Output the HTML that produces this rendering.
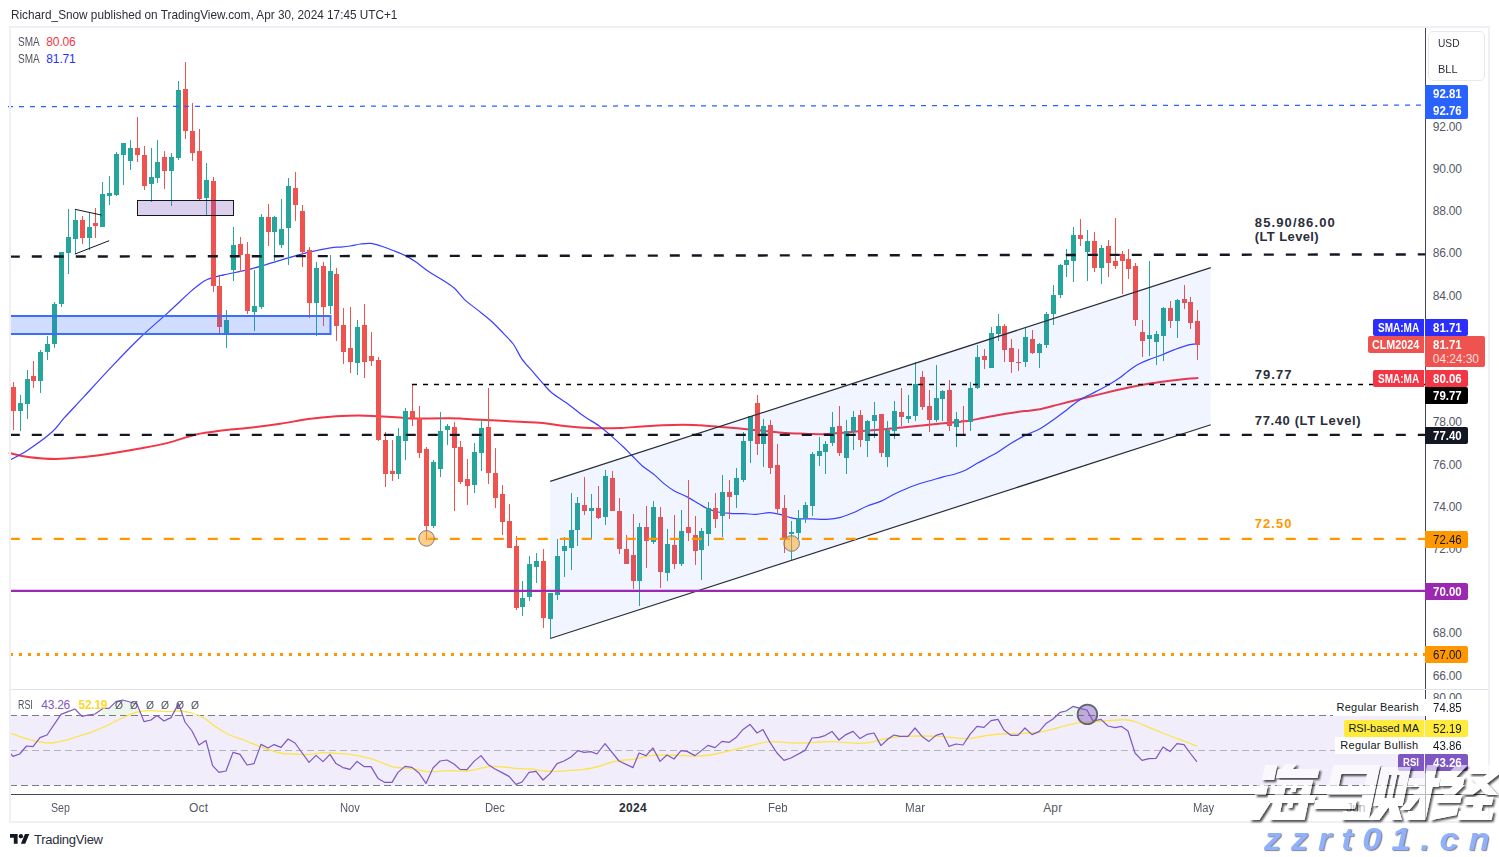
<!DOCTYPE html>
<html><head><meta charset="utf-8"><title>chart</title>
<style>
html,body{margin:0;padding:0;background:#fff;overflow:hidden}
body{width:1499px;height:857px;position:relative;overflow:hidden;font-family:"Liberation Sans",sans-serif}
.t{position:absolute;white-space:pre;font-family:"Liberation Sans",sans-serif}
.b{position:absolute}
#frame{position:absolute;left:9px;top:26px;width:1481px;height:797px;box-sizing:border-box;border:2px solid #eef0f5}
svg{position:absolute;left:0;top:0}
</style></head><body>
<svg width="1499" height="857" viewBox="0 0 1499 857">
<rect x="10" y="715.4" width="1415" height="70" fill="#f1edfa"/>
<polygon points="101,715 103,708.4 109,708.4 116,701.6 122.4,700 130,702 137,704 141.5,715" fill="#ecf6ed"/>
<polygon points="1056,715 1060,712.4 1066,711 1073,706.4 1080,708.4 1087,710 1090,715" fill="#ecf6ed"/>
<path d="M9.5,453.0 C12.6,453.6 20.2,455.9 28.0,456.9 C35.8,457.9 46.7,458.9 56.0,458.9 C65.3,458.9 74.7,457.8 84.0,456.9 C93.3,455.9 102.7,454.6 112.0,453.2 C121.3,451.8 130.7,450.2 140.0,448.5 C149.3,446.8 158.7,445.2 168.0,442.9 C177.3,440.6 186.7,436.6 196.0,434.5 C205.3,432.4 214.8,431.5 224.1,430.3 C233.4,429.1 242.8,428.6 252.1,427.5 C261.4,426.4 270.8,425.2 280.1,423.8 C289.4,422.4 298.8,420.4 308.1,419.1 C317.4,417.9 327.7,416.9 336.1,416.3 C344.5,415.7 351.5,415.4 358.5,415.4 C365.5,415.4 371.3,415.9 378.2,416.3 C385.1,416.7 393.9,417.1 400.0,417.5 C406.1,417.9 406.7,418.5 415.0,418.6 C423.3,418.7 438.3,418.1 450.0,418.3 C461.7,418.5 473.3,419.4 485.0,420.0 C496.7,420.6 510.8,421.3 520.0,421.8 C529.2,422.3 533.3,422.2 540.0,422.8 C546.7,423.4 553.6,424.6 560.4,425.4 C567.2,426.2 574.0,427.0 580.8,427.5 C587.6,428.0 594.5,428.2 601.3,428.3 C608.1,428.4 614.9,428.2 621.7,427.9 C628.5,427.6 635.3,426.9 642.1,426.5 C648.9,426.1 655.8,425.5 662.6,425.2 C669.4,424.9 676.2,424.8 683.0,424.8 C689.8,424.8 696.6,425.0 703.4,425.4 C710.2,425.8 717.0,426.7 723.8,427.3 C730.6,427.9 737.4,428.3 744.2,428.9 C751.0,429.5 757.9,430.3 764.7,431.0 C771.5,431.7 779.2,432.6 785.1,433.0 C791.0,433.4 795.5,433.4 800.0,433.6 C804.5,433.8 807.9,434.1 812.3,434.1 C816.7,434.2 820.1,434.3 826.6,433.9 C833.1,433.5 841.9,432.6 851.1,431.9 C860.3,431.1 873.2,430.1 881.7,429.4 C890.2,428.6 894.6,428.1 902.1,427.4 C909.6,426.7 919.1,425.8 926.6,425.0 C934.1,424.2 940.3,423.6 947.1,422.9 C953.9,422.2 961.4,421.8 967.5,420.9 C973.6,420.0 977.7,418.9 983.8,417.8 C989.9,416.7 997.4,415.2 1004.2,414.1 C1011.0,413.0 1018.7,411.9 1024.7,411.1 C1030.7,410.3 1034.6,410.2 1040.0,409.2 C1045.4,408.2 1050.7,406.6 1057.3,404.9 C1063.9,403.2 1072.5,401.0 1079.7,399.2 C1086.9,397.4 1092.6,396.0 1100.4,394.1 C1108.2,392.2 1118.6,389.8 1126.4,388.1 C1134.2,386.4 1140.2,385.3 1147.1,384.1 C1154.0,382.9 1161.5,381.9 1167.8,381.0 C1174.1,380.1 1180.1,379.4 1185.1,378.9 C1190.0,378.4 1195.4,378.2 1197.5,378.1" fill="none" stroke="#f23645" stroke-width="2" stroke-linecap="round"/>
<path d="M9.5,460.3 C12.6,458.6 20.9,454.6 28.0,449.9 C35.0,445.2 45.7,437.6 51.8,432.2 C57.9,426.8 59.0,423.6 64.4,417.7 C69.8,411.8 76.1,405.2 84.0,396.7 C91.9,388.1 102.7,376.2 112.0,366.4 C121.3,356.6 130.7,346.8 140.0,337.8 C149.3,328.8 159.6,320.3 168.0,312.6 C176.4,304.9 185.2,296.4 190.5,291.6 C195.8,286.8 197.2,285.9 200.0,283.9 C202.8,281.9 204.0,280.9 207.3,279.5 C210.6,278.1 217.2,276.5 220.0,275.7 C222.8,274.9 218.8,276.0 224.1,274.8 C229.4,273.6 242.8,271.1 252.1,268.7 C261.4,266.3 270.8,263.0 280.1,260.3 C289.4,257.6 299.7,254.5 308.1,252.4 C316.5,250.3 325.2,248.7 330.5,247.8 C335.8,246.9 336.7,247.4 340.0,247.1 C343.3,246.8 346.8,246.5 350.2,246.0 C353.6,245.5 357.0,244.4 360.4,244.0 C363.8,243.6 367.2,243.1 370.6,243.4 C374.0,243.7 377.1,244.8 380.9,246.0 C384.6,247.2 389.0,248.9 393.1,250.5 C397.2,252.1 401.6,253.7 405.4,255.6 C409.1,257.5 411.9,259.2 415.6,261.8 C419.3,264.4 423.4,268.0 427.8,271.0 C432.2,274.0 437.7,276.8 442.1,279.7 C446.5,282.6 450.6,285.0 454.4,288.3 C458.1,291.6 460.9,296.1 464.6,299.6 C468.3,303.1 472.4,305.8 476.8,309.4 C481.2,313.0 486.7,317.0 491.1,321.0 C495.5,325.0 499.6,329.4 503.4,333.3 C507.1,337.2 510.5,340.2 513.6,344.5 C516.7,348.8 518.4,354.0 521.8,358.8 C525.2,363.6 530.3,368.8 534.0,373.1 C537.7,377.5 541.2,381.5 544.2,384.9 C547.2,388.2 548.2,389.9 552.3,393.2 C556.4,396.4 563.5,400.7 568.6,404.4 C573.7,408.1 577.8,412.0 582.9,415.6 C588.0,419.2 594.4,422.5 599.2,425.9 C604.0,429.3 607.4,432.5 611.5,436.1 C615.6,439.7 620.3,444.1 623.7,447.3 C627.1,450.5 628.8,452.4 631.9,455.5 C635.0,458.6 638.4,462.5 642.1,465.7 C645.9,468.9 650.6,471.8 654.4,474.9 C658.1,478.0 661.2,481.4 664.6,484.1 C668.0,486.8 671.0,489.1 674.8,491.2 C678.5,493.3 683.0,494.8 687.1,496.9 C691.2,499.0 695.9,502.2 699.3,504.1 C702.7,506.1 704.4,507.3 707.5,508.6 C710.6,509.9 714.0,511.2 717.7,512.0 C721.5,512.8 725.6,513.0 730.0,513.3 C734.4,513.6 739.8,513.5 744.2,513.7 C748.6,513.9 752.2,514.5 756.5,514.3 C760.8,514.1 765.7,512.6 769.8,512.7 C773.9,512.8 777.4,513.9 781.0,514.7 C784.6,515.6 788.0,517.1 791.2,517.8 C794.4,518.5 796.5,518.7 800.0,518.9 C803.5,519.1 807.9,518.8 812.3,518.9 C816.7,519.0 821.9,519.6 826.6,519.3 C831.4,519.0 836.4,518.4 840.8,517.3 C845.2,516.2 848.7,514.7 853.1,512.8 C857.5,510.9 862.6,508.0 867.4,506.0 C872.2,504.0 877.3,502.9 881.7,500.9 C886.1,498.9 889.9,496.2 894.0,494.2 C898.1,492.2 902.1,490.4 906.2,488.7 C910.3,487.0 914.4,485.4 918.5,484.0 C922.6,482.6 926.6,481.7 930.7,480.5 C934.8,479.3 938.9,477.9 943.0,476.8 C947.1,475.7 951.5,475.1 955.2,474.0 C958.9,472.9 961.6,472.1 965.4,470.3 C969.1,468.5 974.0,465.2 977.7,463.1 C981.5,461.0 984.5,459.5 987.9,457.6 C991.3,455.7 994.4,454.2 998.1,451.9 C1001.9,449.6 1006.0,446.4 1010.4,443.7 C1014.8,441.0 1019.8,438.1 1024.7,435.6 C1029.6,433.1 1035.2,431.4 1040.0,428.7 C1044.8,426.0 1049.2,422.8 1053.8,419.5 C1058.4,416.2 1063.3,412.4 1067.6,409.2 C1071.9,405.9 1075.1,402.9 1079.7,400.0 C1084.3,397.1 1090.4,394.5 1095.3,391.9 C1100.2,389.3 1105.1,386.9 1109.1,384.6 C1113.1,382.3 1116.2,380.3 1119.4,378.1 C1122.6,375.9 1124.9,373.5 1128.1,371.2 C1131.3,368.9 1135.0,366.2 1138.4,364.3 C1141.9,362.4 1145.0,361.1 1148.8,359.6 C1152.5,358.1 1156.6,357.0 1160.9,355.3 C1165.2,353.6 1170.1,351.3 1174.7,349.6 C1179.3,347.9 1184.7,345.9 1188.5,344.9 C1192.3,343.9 1196.0,343.9 1197.5,343.7" fill="none" stroke="#3b3eff" stroke-width="1.2" stroke-linecap="round"/>
<g shape-rendering="crispEdges">
<rect x="13" y="382" width="1" height="48" fill="#ef5350"/>
<rect x="11" y="387" width="5" height="24" fill="#ef5350"/>
<rect x="20" y="395" width="1" height="36" fill="#26a69a"/>
<rect x="18" y="403" width="5" height="8" fill="#26a69a"/>
<rect x="27" y="370" width="1" height="49" fill="#26a69a"/>
<rect x="25" y="379" width="5" height="25" fill="#26a69a"/>
<rect x="33" y="361" width="1" height="27" fill="#ef5350"/>
<rect x="31" y="376" width="5" height="5" fill="#ef5350"/>
<rect x="40" y="350" width="1" height="43" fill="#26a69a"/>
<rect x="38" y="352" width="5" height="29" fill="#26a69a"/>
<rect x="47" y="336" width="1" height="24" fill="#26a69a"/>
<rect x="45" y="344" width="5" height="8" fill="#26a69a"/>
<rect x="54" y="302" width="1" height="46" fill="#26a69a"/>
<rect x="52" y="304" width="5" height="40" fill="#26a69a"/>
<rect x="61" y="252" width="1" height="55" fill="#26a69a"/>
<rect x="59" y="252" width="5" height="52" fill="#26a69a"/>
<rect x="68" y="209" width="1" height="65" fill="#26a69a"/>
<rect x="66" y="237" width="5" height="16" fill="#26a69a"/>
<rect x="75" y="209" width="1" height="45" fill="#26a69a"/>
<rect x="73" y="220" width="5" height="19" fill="#26a69a"/>
<rect x="82" y="216" width="1" height="28" fill="#ef5350"/>
<rect x="80" y="220" width="5" height="18" fill="#ef5350"/>
<rect x="89" y="213" width="1" height="37" fill="#26a69a"/>
<rect x="87" y="227" width="5" height="11" fill="#26a69a"/>
<rect x="95" y="208" width="1" height="30" fill="#ef5350"/>
<rect x="93" y="223" width="5" height="3" fill="#ef5350"/>
<rect x="102" y="182" width="1" height="45" fill="#26a69a"/>
<rect x="100" y="194" width="5" height="33" fill="#26a69a"/>
<rect x="109" y="176" width="1" height="29" fill="#26a69a"/>
<rect x="107" y="193" width="5" height="3" fill="#26a69a"/>
<rect x="116" y="152" width="1" height="44" fill="#26a69a"/>
<rect x="114" y="154" width="5" height="41" fill="#26a69a"/>
<rect x="123" y="143" width="1" height="42" fill="#26a69a"/>
<rect x="121" y="143" width="5" height="12" fill="#26a69a"/>
<rect x="130" y="140" width="1" height="30" fill="#26a69a"/>
<rect x="128" y="148" width="5" height="13" fill="#26a69a"/>
<rect x="137" y="117" width="1" height="45" fill="#ef5350"/>
<rect x="135" y="148" width="5" height="7" fill="#ef5350"/>
<rect x="144" y="146" width="1" height="44" fill="#ef5350"/>
<rect x="142" y="155" width="5" height="31" fill="#ef5350"/>
<rect x="151" y="148" width="1" height="54" fill="#26a69a"/>
<rect x="149" y="177" width="5" height="7" fill="#26a69a"/>
<rect x="157" y="140" width="1" height="43" fill="#26a69a"/>
<rect x="155" y="162" width="5" height="16" fill="#26a69a"/>
<rect x="164" y="151" width="1" height="38" fill="#ef5350"/>
<rect x="162" y="157" width="5" height="14" fill="#ef5350"/>
<rect x="171" y="153" width="1" height="53" fill="#26a69a"/>
<rect x="169" y="157" width="5" height="14" fill="#26a69a"/>
<rect x="178" y="81" width="1" height="79" fill="#26a69a"/>
<rect x="176" y="90" width="5" height="68" fill="#26a69a"/>
<rect x="185" y="62" width="1" height="77" fill="#ef5350"/>
<rect x="183" y="89" width="5" height="42" fill="#ef5350"/>
<rect x="192" y="103" width="1" height="58" fill="#ef5350"/>
<rect x="190" y="131" width="5" height="22" fill="#ef5350"/>
<rect x="199" y="129" width="1" height="71" fill="#ef5350"/>
<rect x="197" y="151" width="5" height="48" fill="#ef5350"/>
<rect x="206" y="163" width="1" height="52" fill="#26a69a"/>
<rect x="204" y="180" width="5" height="18" fill="#26a69a"/>
<rect x="213" y="177" width="1" height="115" fill="#ef5350"/>
<rect x="211" y="181" width="5" height="105" fill="#ef5350"/>
<rect x="219" y="276" width="1" height="57" fill="#ef5350"/>
<rect x="217" y="286" width="5" height="41" fill="#ef5350"/>
<rect x="226" y="310" width="1" height="38" fill="#26a69a"/>
<rect x="224" y="320" width="5" height="13" fill="#26a69a"/>
<rect x="233" y="227" width="1" height="54" fill="#26a69a"/>
<rect x="231" y="245" width="5" height="25" fill="#26a69a"/>
<rect x="240" y="237" width="1" height="35" fill="#ef5350"/>
<rect x="238" y="244" width="5" height="11" fill="#ef5350"/>
<rect x="247" y="242" width="1" height="72" fill="#ef5350"/>
<rect x="245" y="254" width="5" height="57" fill="#ef5350"/>
<rect x="254" y="270" width="1" height="61" fill="#26a69a"/>
<rect x="252" y="306" width="5" height="6" fill="#26a69a"/>
<rect x="261" y="214" width="1" height="95" fill="#26a69a"/>
<rect x="259" y="217" width="5" height="90" fill="#26a69a"/>
<rect x="268" y="204" width="1" height="42" fill="#ef5350"/>
<rect x="266" y="217" width="5" height="15" fill="#ef5350"/>
<rect x="274" y="216" width="1" height="45" fill="#26a69a"/>
<rect x="272" y="217" width="5" height="15" fill="#26a69a"/>
<rect x="281" y="199" width="1" height="49" fill="#26a69a"/>
<rect x="279" y="229" width="5" height="16" fill="#26a69a"/>
<rect x="288" y="178" width="1" height="87" fill="#26a69a"/>
<rect x="286" y="186" width="5" height="42" fill="#26a69a"/>
<rect x="295" y="172" width="1" height="49" fill="#ef5350"/>
<rect x="293" y="188" width="5" height="17" fill="#ef5350"/>
<rect x="302" y="205" width="1" height="62" fill="#ef5350"/>
<rect x="300" y="211" width="5" height="41" fill="#ef5350"/>
<rect x="309" y="247" width="1" height="71" fill="#ef5350"/>
<rect x="307" y="250" width="5" height="53" fill="#ef5350"/>
<rect x="316" y="262" width="1" height="74" fill="#26a69a"/>
<rect x="314" y="268" width="5" height="35" fill="#26a69a"/>
<rect x="323" y="262" width="1" height="64" fill="#ef5350"/>
<rect x="321" y="266" width="5" height="41" fill="#ef5350"/>
<rect x="330" y="255" width="1" height="59" fill="#26a69a"/>
<rect x="328" y="271" width="5" height="35" fill="#26a69a"/>
<rect x="336" y="268" width="1" height="73" fill="#ef5350"/>
<rect x="334" y="274" width="5" height="52" fill="#ef5350"/>
<rect x="343" y="308" width="1" height="56" fill="#ef5350"/>
<rect x="341" y="325" width="5" height="27" fill="#ef5350"/>
<rect x="350" y="307" width="1" height="66" fill="#ef5350"/>
<rect x="348" y="348" width="5" height="14" fill="#ef5350"/>
<rect x="357" y="320" width="1" height="55" fill="#26a69a"/>
<rect x="355" y="327" width="5" height="36" fill="#26a69a"/>
<rect x="364" y="304" width="1" height="74" fill="#ef5350"/>
<rect x="362" y="325" width="5" height="37" fill="#ef5350"/>
<rect x="371" y="332" width="1" height="34" fill="#ef5350"/>
<rect x="369" y="356" width="5" height="5" fill="#ef5350"/>
<rect x="378" y="357" width="1" height="84" fill="#ef5350"/>
<rect x="376" y="360" width="5" height="80" fill="#ef5350"/>
<rect x="385" y="432" width="1" height="55" fill="#ef5350"/>
<rect x="383" y="440" width="5" height="34" fill="#ef5350"/>
<rect x="392" y="440" width="1" height="41" fill="#ef5350"/>
<rect x="390" y="471" width="5" height="3" fill="#ef5350"/>
<rect x="398" y="428" width="1" height="51" fill="#26a69a"/>
<rect x="396" y="436" width="5" height="38" fill="#26a69a"/>
<rect x="405" y="408" width="1" height="52" fill="#26a69a"/>
<rect x="403" y="411" width="5" height="30" fill="#26a69a"/>
<rect x="412" y="384" width="1" height="42" fill="#ef5350"/>
<rect x="410" y="411" width="5" height="7" fill="#ef5350"/>
<rect x="419" y="406" width="1" height="52" fill="#ef5350"/>
<rect x="417" y="418" width="5" height="35" fill="#ef5350"/>
<rect x="426" y="447" width="1" height="93" fill="#ef5350"/>
<rect x="424" y="449" width="5" height="77" fill="#ef5350"/>
<rect x="433" y="460" width="1" height="68" fill="#26a69a"/>
<rect x="431" y="462" width="5" height="64" fill="#26a69a"/>
<rect x="440" y="412" width="1" height="65" fill="#26a69a"/>
<rect x="438" y="431" width="5" height="38" fill="#26a69a"/>
<rect x="447" y="424" width="1" height="21" fill="#26a69a"/>
<rect x="445" y="426" width="5" height="4" fill="#26a69a"/>
<rect x="454" y="422" width="1" height="89" fill="#ef5350"/>
<rect x="452" y="427" width="5" height="21" fill="#ef5350"/>
<rect x="460" y="441" width="1" height="43" fill="#ef5350"/>
<rect x="458" y="447" width="5" height="35" fill="#ef5350"/>
<rect x="467" y="459" width="1" height="46" fill="#ef5350"/>
<rect x="465" y="479" width="5" height="7" fill="#ef5350"/>
<rect x="474" y="443" width="1" height="50" fill="#26a69a"/>
<rect x="472" y="452" width="5" height="33" fill="#26a69a"/>
<rect x="481" y="420" width="1" height="51" fill="#26a69a"/>
<rect x="479" y="428" width="5" height="25" fill="#26a69a"/>
<rect x="488" y="388" width="1" height="96" fill="#ef5350"/>
<rect x="486" y="427" width="5" height="46" fill="#ef5350"/>
<rect x="495" y="448" width="1" height="60" fill="#ef5350"/>
<rect x="493" y="473" width="5" height="25" fill="#ef5350"/>
<rect x="502" y="485" width="1" height="50" fill="#ef5350"/>
<rect x="500" y="494" width="5" height="28" fill="#ef5350"/>
<rect x="509" y="504" width="1" height="44" fill="#ef5350"/>
<rect x="507" y="521" width="5" height="27" fill="#ef5350"/>
<rect x="516" y="536" width="1" height="74" fill="#ef5350"/>
<rect x="514" y="546" width="5" height="62" fill="#ef5350"/>
<rect x="522" y="581" width="1" height="35" fill="#26a69a"/>
<rect x="520" y="598" width="5" height="9" fill="#26a69a"/>
<rect x="529" y="556" width="1" height="45" fill="#26a69a"/>
<rect x="527" y="564" width="5" height="33" fill="#26a69a"/>
<rect x="536" y="553" width="1" height="30" fill="#26a69a"/>
<rect x="534" y="561" width="5" height="6" fill="#26a69a"/>
<rect x="543" y="549" width="1" height="79" fill="#ef5350"/>
<rect x="541" y="561" width="5" height="57" fill="#ef5350"/>
<rect x="550" y="593" width="1" height="45" fill="#26a69a"/>
<rect x="548" y="593" width="5" height="26" fill="#26a69a"/>
<rect x="557" y="539" width="1" height="61" fill="#26a69a"/>
<rect x="555" y="556" width="5" height="39" fill="#26a69a"/>
<rect x="564" y="537" width="1" height="40" fill="#26a69a"/>
<rect x="562" y="546" width="5" height="5" fill="#26a69a"/>
<rect x="571" y="493" width="1" height="77" fill="#26a69a"/>
<rect x="569" y="530" width="5" height="18" fill="#26a69a"/>
<rect x="577" y="497" width="1" height="49" fill="#26a69a"/>
<rect x="575" y="503" width="5" height="27" fill="#26a69a"/>
<rect x="584" y="477" width="1" height="38" fill="#ef5350"/>
<rect x="582" y="505" width="5" height="6" fill="#ef5350"/>
<rect x="591" y="494" width="1" height="45" fill="#26a69a"/>
<rect x="589" y="508" width="5" height="3" fill="#26a69a"/>
<rect x="598" y="486" width="1" height="33" fill="#ef5350"/>
<rect x="596" y="508" width="5" height="10" fill="#ef5350"/>
<rect x="605" y="470" width="1" height="55" fill="#26a69a"/>
<rect x="603" y="476" width="5" height="41" fill="#26a69a"/>
<rect x="612" y="471" width="1" height="40" fill="#ef5350"/>
<rect x="610" y="478" width="5" height="33" fill="#ef5350"/>
<rect x="619" y="498" width="1" height="56" fill="#ef5350"/>
<rect x="617" y="511" width="5" height="38" fill="#ef5350"/>
<rect x="626" y="535" width="1" height="29" fill="#ef5350"/>
<rect x="624" y="549" width="5" height="15" fill="#ef5350"/>
<rect x="633" y="514" width="1" height="75" fill="#ef5350"/>
<rect x="631" y="555" width="5" height="26" fill="#ef5350"/>
<rect x="639" y="523" width="1" height="83" fill="#26a69a"/>
<rect x="637" y="527" width="5" height="54" fill="#26a69a"/>
<rect x="646" y="506" width="1" height="62" fill="#ef5350"/>
<rect x="644" y="527" width="5" height="14" fill="#ef5350"/>
<rect x="653" y="501" width="1" height="43" fill="#26a69a"/>
<rect x="651" y="507" width="5" height="35" fill="#26a69a"/>
<rect x="660" y="507" width="1" height="81" fill="#ef5350"/>
<rect x="658" y="517" width="5" height="55" fill="#ef5350"/>
<rect x="667" y="529" width="1" height="52" fill="#26a69a"/>
<rect x="665" y="544" width="5" height="29" fill="#26a69a"/>
<rect x="674" y="515" width="1" height="54" fill="#ef5350"/>
<rect x="672" y="545" width="5" height="19" fill="#ef5350"/>
<rect x="681" y="510" width="1" height="56" fill="#26a69a"/>
<rect x="679" y="531" width="5" height="33" fill="#26a69a"/>
<rect x="688" y="480" width="1" height="61" fill="#ef5350"/>
<rect x="686" y="527" width="5" height="6" fill="#ef5350"/>
<rect x="695" y="516" width="1" height="49" fill="#ef5350"/>
<rect x="693" y="535" width="5" height="16" fill="#ef5350"/>
<rect x="701" y="528" width="1" height="52" fill="#26a69a"/>
<rect x="699" y="531" width="5" height="19" fill="#26a69a"/>
<rect x="708" y="502" width="1" height="44" fill="#26a69a"/>
<rect x="706" y="508" width="5" height="26" fill="#26a69a"/>
<rect x="715" y="493" width="1" height="35" fill="#ef5350"/>
<rect x="713" y="508" width="5" height="11" fill="#ef5350"/>
<rect x="722" y="475" width="1" height="62" fill="#26a69a"/>
<rect x="720" y="492" width="5" height="24" fill="#26a69a"/>
<rect x="729" y="480" width="1" height="39" fill="#ef5350"/>
<rect x="727" y="492" width="5" height="5" fill="#ef5350"/>
<rect x="736" y="468" width="1" height="40" fill="#26a69a"/>
<rect x="734" y="478" width="5" height="17" fill="#26a69a"/>
<rect x="743" y="432" width="1" height="50" fill="#26a69a"/>
<rect x="741" y="441" width="5" height="39" fill="#26a69a"/>
<rect x="750" y="416" width="1" height="47" fill="#26a69a"/>
<rect x="748" y="416" width="5" height="25" fill="#26a69a"/>
<rect x="757" y="395" width="1" height="60" fill="#ef5350"/>
<rect x="755" y="403" width="5" height="41" fill="#ef5350"/>
<rect x="763" y="419" width="1" height="48" fill="#26a69a"/>
<rect x="761" y="426" width="5" height="18" fill="#26a69a"/>
<rect x="770" y="420" width="1" height="54" fill="#ef5350"/>
<rect x="768" y="425" width="5" height="43" fill="#ef5350"/>
<rect x="777" y="444" width="1" height="69" fill="#ef5350"/>
<rect x="775" y="465" width="5" height="44" fill="#ef5350"/>
<rect x="784" y="495" width="1" height="58" fill="#ef5350"/>
<rect x="782" y="508" width="5" height="31" fill="#ef5350"/>
<rect x="791" y="521" width="1" height="39" fill="#26a69a"/>
<rect x="789" y="532" width="5" height="2" fill="#26a69a"/>
<rect x="798" y="510" width="1" height="29" fill="#26a69a"/>
<rect x="796" y="518" width="5" height="15" fill="#26a69a"/>
<rect x="805" y="502" width="1" height="21" fill="#26a69a"/>
<rect x="803" y="505" width="5" height="13" fill="#26a69a"/>
<rect x="812" y="452" width="1" height="64" fill="#26a69a"/>
<rect x="810" y="454" width="5" height="52" fill="#26a69a"/>
<rect x="819" y="437" width="1" height="29" fill="#26a69a"/>
<rect x="817" y="451" width="5" height="5" fill="#26a69a"/>
<rect x="825" y="441" width="1" height="33" fill="#26a69a"/>
<rect x="823" y="444" width="5" height="8" fill="#26a69a"/>
<rect x="832" y="412" width="1" height="34" fill="#26a69a"/>
<rect x="830" y="427" width="5" height="16" fill="#26a69a"/>
<rect x="839" y="406" width="1" height="50" fill="#ef5350"/>
<rect x="837" y="426" width="5" height="27" fill="#ef5350"/>
<rect x="846" y="420" width="1" height="54" fill="#26a69a"/>
<rect x="844" y="431" width="5" height="27" fill="#26a69a"/>
<rect x="853" y="411" width="1" height="39" fill="#26a69a"/>
<rect x="851" y="417" width="5" height="14" fill="#26a69a"/>
<rect x="860" y="410" width="1" height="37" fill="#ef5350"/>
<rect x="858" y="415" width="5" height="25" fill="#ef5350"/>
<rect x="867" y="420" width="1" height="37" fill="#26a69a"/>
<rect x="865" y="421" width="5" height="20" fill="#26a69a"/>
<rect x="874" y="402" width="1" height="36" fill="#26a69a"/>
<rect x="872" y="415" width="5" height="6" fill="#26a69a"/>
<rect x="881" y="414" width="1" height="43" fill="#ef5350"/>
<rect x="879" y="414" width="5" height="39" fill="#ef5350"/>
<rect x="887" y="421" width="1" height="46" fill="#26a69a"/>
<rect x="885" y="430" width="5" height="27" fill="#26a69a"/>
<rect x="894" y="401" width="1" height="38" fill="#26a69a"/>
<rect x="892" y="411" width="5" height="20" fill="#26a69a"/>
<rect x="901" y="388" width="1" height="38" fill="#ef5350"/>
<rect x="899" y="412" width="5" height="5" fill="#ef5350"/>
<rect x="908" y="395" width="1" height="28" fill="#26a69a"/>
<rect x="906" y="416" width="5" height="3" fill="#26a69a"/>
<rect x="915" y="362" width="1" height="59" fill="#26a69a"/>
<rect x="913" y="384" width="5" height="32" fill="#26a69a"/>
<rect x="922" y="371" width="1" height="39" fill="#ef5350"/>
<rect x="920" y="377" width="5" height="30" fill="#ef5350"/>
<rect x="929" y="390" width="1" height="42" fill="#ef5350"/>
<rect x="927" y="406" width="5" height="14" fill="#ef5350"/>
<rect x="936" y="365" width="1" height="57" fill="#26a69a"/>
<rect x="934" y="398" width="5" height="22" fill="#26a69a"/>
<rect x="942" y="390" width="1" height="31" fill="#26a69a"/>
<rect x="940" y="391" width="5" height="8" fill="#26a69a"/>
<rect x="949" y="380" width="1" height="51" fill="#ef5350"/>
<rect x="947" y="390" width="5" height="36" fill="#ef5350"/>
<rect x="956" y="412" width="1" height="35" fill="#26a69a"/>
<rect x="954" y="419" width="5" height="8" fill="#26a69a"/>
<rect x="963" y="406" width="1" height="28" fill="#ef5350"/>
<rect x="961" y="420" width="5" height="2" fill="#ef5350"/>
<rect x="970" y="382" width="1" height="49" fill="#26a69a"/>
<rect x="968" y="388" width="5" height="34" fill="#26a69a"/>
<rect x="977" y="345" width="1" height="44" fill="#26a69a"/>
<rect x="975" y="357" width="5" height="31" fill="#26a69a"/>
<rect x="984" y="349" width="1" height="20" fill="#ef5350"/>
<rect x="982" y="356" width="5" height="4" fill="#ef5350"/>
<rect x="991" y="327" width="1" height="41" fill="#26a69a"/>
<rect x="989" y="333" width="5" height="35" fill="#26a69a"/>
<rect x="998" y="314" width="1" height="27" fill="#26a69a"/>
<rect x="996" y="326" width="5" height="8" fill="#26a69a"/>
<rect x="1004" y="324" width="1" height="38" fill="#ef5350"/>
<rect x="1002" y="326" width="5" height="24" fill="#ef5350"/>
<rect x="1011" y="339" width="1" height="34" fill="#ef5350"/>
<rect x="1009" y="348" width="5" height="14" fill="#ef5350"/>
<rect x="1018" y="349" width="1" height="22" fill="#ef5350"/>
<rect x="1016" y="362" width="5" height="1" fill="#ef5350"/>
<rect x="1025" y="328" width="1" height="39" fill="#26a69a"/>
<rect x="1023" y="337" width="5" height="25" fill="#26a69a"/>
<rect x="1032" y="330" width="1" height="24" fill="#ef5350"/>
<rect x="1030" y="339" width="5" height="14" fill="#ef5350"/>
<rect x="1039" y="343" width="1" height="25" fill="#26a69a"/>
<rect x="1037" y="344" width="5" height="9" fill="#26a69a"/>
<rect x="1046" y="312" width="1" height="36" fill="#26a69a"/>
<rect x="1044" y="314" width="5" height="31" fill="#26a69a"/>
<rect x="1053" y="285" width="1" height="40" fill="#26a69a"/>
<rect x="1051" y="295" width="5" height="19" fill="#26a69a"/>
<rect x="1060" y="264" width="1" height="34" fill="#26a69a"/>
<rect x="1058" y="265" width="5" height="30" fill="#26a69a"/>
<rect x="1066" y="249" width="1" height="28" fill="#26a69a"/>
<rect x="1064" y="260" width="5" height="5" fill="#26a69a"/>
<rect x="1073" y="227" width="1" height="55" fill="#26a69a"/>
<rect x="1071" y="235" width="5" height="26" fill="#26a69a"/>
<rect x="1080" y="219" width="1" height="27" fill="#ef5350"/>
<rect x="1078" y="235" width="5" height="4" fill="#ef5350"/>
<rect x="1087" y="230" width="1" height="51" fill="#26a69a"/>
<rect x="1085" y="241" width="5" height="11" fill="#26a69a"/>
<rect x="1094" y="232" width="1" height="40" fill="#ef5350"/>
<rect x="1092" y="241" width="5" height="27" fill="#ef5350"/>
<rect x="1101" y="245" width="1" height="39" fill="#26a69a"/>
<rect x="1099" y="248" width="5" height="20" fill="#26a69a"/>
<rect x="1108" y="240" width="1" height="37" fill="#ef5350"/>
<rect x="1106" y="246" width="5" height="17" fill="#ef5350"/>
<rect x="1115" y="218" width="1" height="51" fill="#ef5350"/>
<rect x="1113" y="261" width="5" height="5" fill="#ef5350"/>
<rect x="1122" y="251" width="1" height="43" fill="#ef5350"/>
<rect x="1120" y="254" width="5" height="7" fill="#ef5350"/>
<rect x="1128" y="249" width="1" height="30" fill="#ef5350"/>
<rect x="1126" y="259" width="5" height="10" fill="#ef5350"/>
<rect x="1135" y="263" width="1" height="63" fill="#ef5350"/>
<rect x="1133" y="266" width="5" height="54" fill="#ef5350"/>
<rect x="1142" y="320" width="1" height="37" fill="#ef5350"/>
<rect x="1140" y="332" width="5" height="9" fill="#ef5350"/>
<rect x="1149" y="261" width="1" height="95" fill="#26a69a"/>
<rect x="1147" y="335" width="5" height="4" fill="#26a69a"/>
<rect x="1156" y="331" width="1" height="34" fill="#26a69a"/>
<rect x="1154" y="334" width="5" height="8" fill="#26a69a"/>
<rect x="1163" y="307" width="1" height="54" fill="#26a69a"/>
<rect x="1161" y="308" width="5" height="28" fill="#26a69a"/>
<rect x="1170" y="301" width="1" height="27" fill="#ef5350"/>
<rect x="1168" y="308" width="5" height="13" fill="#ef5350"/>
<rect x="1177" y="299" width="1" height="39" fill="#26a69a"/>
<rect x="1175" y="300" width="5" height="21" fill="#26a69a"/>
<rect x="1184" y="285" width="1" height="24" fill="#ef5350"/>
<rect x="1182" y="299" width="5" height="4" fill="#ef5350"/>
<rect x="1190" y="297" width="1" height="32" fill="#ef5350"/>
<rect x="1188" y="302" width="5" height="21" fill="#ef5350"/>
<rect x="1197" y="310" width="1" height="50" fill="#ef5350"/>
<rect x="1195" y="321" width="5" height="24" fill="#ef5350"/>
</g>
<polygon points="550.2,481.4 1210.8,267.6 1210.8,424.7 550.2,638.5" fill="rgba(41,98,255,0.065)"/>
<rect x="10" y="316" width="320.5" height="18" fill="rgba(41,98,255,0.22)"/><path d="M10,316 H330.5 V334 H10" fill="none" stroke="#3d6dff" stroke-width="2"/>
<rect x="137.5" y="200.5" width="96" height="15" fill="rgba(126,87,194,0.28)" stroke="#131722" stroke-width="1"/>
<line x1="550.2" y1="481.4" x2="1210.8" y2="267.6" stroke="#2a2e39" stroke-width="1.2"/>
<line x1="550.2" y1="638.5" x2="1210.8" y2="424.7" stroke="#2a2e39" stroke-width="1.2"/>
<line x1="74.9" y1="209.3" x2="101.6" y2="215.1" stroke="#131722" stroke-width="1"/>
<line x1="74.9" y1="254.1" x2="109.1" y2="240.7" stroke="#131722" stroke-width="1"/>
<line x1="8" y1="106.6" x2="1425" y2="105.2" stroke="#2962ff" stroke-width="1.25" stroke-dasharray="5 6"/>
<line x1="9.8" y1="256.6" x2="1425" y2="254.4" stroke="#131722" stroke-width="2.4" stroke-dasharray="10 12"/>
<line x1="9.8" y1="434.9" x2="1425" y2="434.9" stroke="#131722" stroke-width="2.4" stroke-dasharray="10 12"/>
<line x1="412" y1="384.5" x2="1425" y2="384.5" stroke="#000" stroke-width="1.3" stroke-dasharray="5 6"/>
<line x1="9.8" y1="538.9" x2="1425" y2="538.9" stroke="#ff9800" stroke-width="2.2" stroke-dasharray="10 12"/>
<line x1="9" y1="590.8" x2="1425" y2="590.8" stroke="#9c27b0" stroke-width="2.2"/>
<line x1="10" y1="654.5" x2="1425" y2="654.5" stroke="#ff9800" stroke-width="3" stroke-dasharray="3 6" shape-rendering="crispEdges"/>
<circle cx="426.5" cy="538.4" r="7.8" fill="rgba(255,167,38,0.55)" stroke="#787b86" stroke-width="1"/>
<circle cx="791.6" cy="543.5" r="7.8" fill="rgba(255,167,38,0.55)" stroke="#787b86" stroke-width="1"/>
<rect x="10" y="689" width="1478" height="1" fill="#e0e3eb"/>
<line x1="10" y1="715.5" x2="1425" y2="715.5" stroke="#787b86" stroke-width="1" stroke-dasharray="7 4"/>
<line x1="10" y1="750.5" x2="1425" y2="750.5" stroke="#b2b5be" stroke-width="1" stroke-dasharray="7 4"/>
<line x1="10" y1="785.5" x2="1425" y2="785.5" stroke="#787b86" stroke-width="1" stroke-dasharray="7 4"/>
<path d="M10.0,733.0 C12.3,733.8 19.3,736.6 24.0,738.0 C28.7,739.4 33.3,740.8 38.0,741.6 C42.7,742.4 47.7,743.2 52.0,743.0 C56.3,742.8 60.0,741.6 64.0,740.6 C68.0,739.6 71.7,738.3 76.0,737.0 C80.3,735.7 85.3,734.3 90.0,732.6 C94.7,730.9 99.0,729.3 104.0,727.0 C109.0,724.7 114.7,721.4 120.0,719.0 C125.3,716.6 131.0,713.8 136.0,712.4 C141.0,711.0 145.0,710.7 150.0,710.6 C155.0,710.5 161.0,711.5 166.0,711.6 C171.0,711.7 175.7,710.8 180.0,711.0 C184.3,711.2 188.0,711.8 192.0,713.0 C196.0,714.2 200.0,715.7 204.0,718.0 C208.0,720.3 211.7,724.2 216.0,727.0 C220.3,729.8 225.3,732.8 230.0,735.0 C234.7,737.2 239.0,738.1 244.0,740.0 C249.0,741.9 254.0,744.4 260.0,746.6 C266.0,748.8 274.7,751.8 280.0,753.0 C285.3,754.2 288.7,753.8 292.0,754.0 C295.3,754.2 297.0,754.3 300.0,754.4 C303.0,754.5 306.0,754.7 310.0,754.4 C314.0,754.1 319.7,752.8 324.0,752.6 C328.3,752.4 331.7,753.1 336.0,753.4 C340.3,753.7 344.3,753.6 350.0,754.4 C355.7,755.2 364.3,756.9 370.0,758.4 C375.7,759.9 379.7,762.1 384.0,763.6 C388.3,765.1 391.3,766.6 396.0,767.4 C400.7,768.2 407.0,767.9 412.0,768.6 C417.0,769.3 422.0,771.1 426.0,771.6 C430.0,772.1 432.3,771.8 436.0,771.6 C439.7,771.4 442.7,770.7 448.0,770.6 C453.3,770.5 462.7,771.4 468.0,771.0 C473.3,770.6 476.0,769.2 480.0,768.4 C484.0,767.6 488.0,766.6 492.0,766.4 C496.0,766.2 500.0,766.7 504.0,767.0 C508.0,767.3 511.7,768.1 516.0,768.4 C520.3,768.7 525.3,768.6 530.0,769.0 C534.7,769.4 539.7,770.6 544.0,771.0 C548.3,771.4 551.7,771.5 556.0,771.4 C560.3,771.3 565.3,770.7 570.0,770.4 C574.7,770.1 579.0,770.1 584.0,769.4 C589.0,768.7 595.3,767.2 600.0,766.0 C604.7,764.8 608.0,763.0 612.0,762.0 C616.0,761.0 620.3,760.4 624.0,760.0 C627.7,759.6 629.7,760.1 634.0,759.4 C638.3,758.7 644.7,756.3 650.0,755.6 C655.3,754.9 660.3,755.0 666.0,755.0 C671.7,755.0 678.3,755.4 684.0,755.6 C689.7,755.8 694.7,756.3 700.0,756.0 C705.3,755.7 711.0,754.9 716.0,754.0 C721.0,753.1 724.3,751.9 730.0,750.6 C735.7,749.3 744.3,747.4 750.0,746.0 C755.7,744.6 760.3,743.1 764.0,742.4 C767.7,741.7 768.7,741.6 772.0,741.6 C775.3,741.6 778.7,742.2 784.0,742.4 C789.3,742.6 798.0,743.1 804.0,743.0 C810.0,742.9 815.3,742.2 820.0,742.0 C824.7,741.8 827.7,741.5 832.0,741.6 C836.3,741.7 841.3,742.3 846.0,742.6 C850.7,742.9 856.0,743.4 860.0,743.4 C864.0,743.4 866.0,743.1 870.0,742.4 C874.0,741.7 879.0,740.0 884.0,739.0 C889.0,738.0 894.0,737.1 900.0,736.6 C906.0,736.1 913.3,736.0 920.0,736.0 C926.7,736.0 932.3,736.0 940.0,736.4 C947.7,736.8 958.7,738.7 966.0,738.6 C973.3,738.5 978.3,736.8 984.0,736.0 C989.7,735.2 994.0,734.4 1000.0,734.0 C1006.0,733.6 1013.3,733.9 1020.0,733.6 C1026.7,733.3 1034.7,732.7 1040.0,732.0 C1045.3,731.3 1047.7,730.5 1052.0,729.4 C1056.3,728.3 1061.3,726.7 1066.0,725.6 C1070.7,724.5 1075.7,723.2 1080.0,722.6 C1084.3,722.0 1087.3,722.3 1092.0,722.0 C1096.7,721.7 1103.3,720.9 1108.0,720.6 C1112.7,720.3 1116.7,720.1 1120.0,720.0 C1123.3,719.9 1125.3,719.7 1128.0,720.0 C1130.7,720.3 1132.0,720.6 1136.0,722.0 C1140.0,723.4 1146.3,726.3 1152.0,728.6 C1157.7,730.9 1164.7,733.9 1170.0,736.0 C1175.3,738.1 1179.6,739.3 1184.0,741.0 C1188.4,742.7 1194.5,745.2 1196.6,746.0" fill="none" stroke="#fbe54d" stroke-width="1.3" stroke-linecap="round"/>
<polyline points="10.0,753.0 13.0,756.4 19.6,754.0 26.6,746.0 33.0,746.6 40.0,737.6 47.0,735.0 61.0,714.4 68.0,711.6 75.0,709.0 82.0,716.4 88.0,715.0 95.0,714.0 103.0,708.4 109.0,708.4 116.0,701.6 122.4,700.0 130.0,702.0 137.0,704.0 144.0,721.6 151.0,720.0 157.0,715.6 164.0,721.0 171.0,717.6 178.6,703.6 185.0,722.0 192.0,731.0 199.0,745.0 206.0,740.6 212.6,765.6 219.0,772.4 226.0,771.0 233.0,752.4 240.0,754.4 247.0,765.0 254.0,763.6 261.0,744.4 268.0,748.0 274.0,744.6 281.0,747.4 288.0,739.0 295.0,743.0 300.0,750.0 309.0,762.4 316.0,755.4 323.0,761.6 330.0,754.4 336.0,763.6 343.0,767.6 350.0,769.4 357.0,761.4 364.0,766.6 371.0,766.6 378.0,778.4 385.0,782.4 392.0,782.4 398.0,772.4 405.0,766.4 412.0,767.4 419.0,773.0 426.0,783.4 433.0,768.0 440.0,761.0 447.0,760.0 454.0,764.0 460.0,769.4 467.0,769.6 474.0,761.4 481.0,755.6 488.0,764.4 495.0,769.0 502.0,772.6 509.0,776.4 516.0,784.4 522.0,782.0 529.0,772.4 536.0,771.4 543.0,780.0 550.0,773.6 557.0,763.6 564.0,761.0 571.0,757.0 578.0,750.6 584.0,752.4 591.0,751.6 597.0,754.0 600.0,750.0 605.0,743.6 619.0,761.0 633.0,767.6 639.0,753.0 646.0,755.6 653.0,748.0 660.0,761.4 667.0,755.0 674.0,759.0 681.0,750.6 687.0,751.4 695.0,755.6 708.0,745.4 715.0,747.6 722.0,741.4 729.0,742.4 736.0,737.6 743.0,729.4 750.0,724.4 757.0,733.0 763.0,729.6 770.0,742.4 777.0,753.0 784.0,760.4 791.0,758.0 805.0,750.4 812.0,738.0 819.0,737.4 825.0,735.6 832.0,731.4 839.0,740.0 846.0,734.6 853.0,731.4 860.0,738.6 867.0,734.4 874.0,733.0 881.0,745.6 888.0,739.0 894.0,735.0 900.0,736.4 908.0,736.4 915.0,728.0 922.0,736.4 929.0,741.4 936.0,735.4 942.6,733.4 949.0,746.4 956.0,744.0 963.0,745.0 970.0,734.4 977.0,726.4 984.0,727.4 991.0,720.6 998.0,719.4 1004.0,730.0 1011.0,735.4 1018.0,735.4 1025.0,728.0 1032.0,734.6 1039.0,731.6 1046.0,723.6 1053.0,719.0 1060.0,712.4 1066.0,711.0 1073.0,706.4 1080.0,708.4 1087.0,710.0 1093.0,721.0 1101.0,719.4 1108.0,726.0 1115.0,727.6 1121.6,726.4 1128.0,731.0 1135.0,753.0 1142.0,760.4 1149.0,758.6 1156.0,758.4 1163.0,747.0 1170.0,751.6 1177.0,743.6 1184.0,744.6 1190.0,753.0 1196.6,761.4" fill="none" stroke="#7e57c2" stroke-width="1.2" stroke-linejoin="round" stroke-linecap="round" />
<circle cx="1087.4" cy="714.4" r="9.8" fill="rgba(126,87,194,0.45)" stroke="#62656f" stroke-width="1.8"/>
<rect x="10" y="794" width="1478" height="1" fill="#434651"/>
<rect x="1425" y="27.5" width="1" height="661.5" fill="#434651"/><rect x="1425" y="690" width="1" height="132" fill="#434651"/>
</svg>
<div id="frame"></div>
<div class="b" style="left:1428.3px;top:30.8px;width:56.4px;height:50.5px;box-sizing:border-box;border:1px solid #e6e8ee;border-radius:5px;background:#fff"></div>
<div class="t" style="left:10.6px;top:6.00px;font-size:13px;line-height:17px;color:#2a2e39;letter-spacing:0px;transform:scaleX(0.906);transform-origin:0 0;">Richard_Snow published on TradingView.com, Apr 30, 2024 17:45 UTC+1</div>
<div class="t" style="left:18.0px;top:33.84px;font-size:12px;line-height:16px;color:#50535e;letter-spacing:0px;transform:scaleX(0.8341);transform-origin:0 0;">SMA</div>
<div class="t" style="left:46.3px;top:33.84px;font-size:12px;line-height:16px;color:#f23645;letter-spacing:-0.133px;">80.06</div>
<div class="t" style="left:18.0px;top:50.84px;font-size:12px;line-height:16px;color:#50535e;letter-spacing:0px;transform:scaleX(0.8341);transform-origin:0 0;">SMA</div>
<div class="t" style="left:46.3px;top:50.84px;font-size:12px;line-height:16px;color:#2a2eff;letter-spacing:-0.133px;">81.71</div>
<div class="t" style="left:1432.8px;top:118.84px;font-size:12px;line-height:16px;color:#555965;letter-spacing:-0.208px;">92.00</div>
<div class="t" style="left:1432.8px;top:160.84px;font-size:12px;line-height:16px;color:#555965;letter-spacing:-0.208px;">90.00</div>
<div class="t" style="left:1432.8px;top:202.84px;font-size:12px;line-height:16px;color:#555965;letter-spacing:-0.208px;">88.00</div>
<div class="t" style="left:1432.8px;top:244.84px;font-size:12px;line-height:16px;color:#555965;letter-spacing:-0.208px;">86.00</div>
<div class="t" style="left:1432.8px;top:287.84px;font-size:12px;line-height:16px;color:#555965;letter-spacing:-0.208px;">84.00</div>
<div class="t" style="left:1432.8px;top:413.84px;font-size:12px;line-height:16px;color:#555965;letter-spacing:-0.208px;">78.00</div>
<div class="t" style="left:1432.8px;top:456.84px;font-size:12px;line-height:16px;color:#555965;letter-spacing:-0.208px;">76.00</div>
<div class="t" style="left:1432.8px;top:498.84px;font-size:12px;line-height:16px;color:#555965;letter-spacing:-0.208px;">74.00</div>
<div class="t" style="left:1432.8px;top:540.84px;font-size:12px;line-height:16px;color:#555965;letter-spacing:-0.208px;">72.00</div>
<div class="t" style="left:1432.8px;top:624.84px;font-size:12px;line-height:16px;color:#555965;letter-spacing:-0.208px;">68.00</div>
<div class="t" style="left:1432.8px;top:667.84px;font-size:12px;line-height:16px;color:#555965;letter-spacing:-0.208px;">66.00</div>
<div class="t" style="left:1438.0px;top:36.27px;font-size:11.5px;line-height:15.5px;color:#2a2e39;letter-spacing:0px;transform:scaleX(0.8855);transform-origin:0 0;">USD</div>
<div class="t" style="left:1438.0px;top:62.27px;font-size:11.5px;line-height:15.5px;color:#2a2e39;letter-spacing:0px;transform:scaleX(0.9527);transform-origin:0 0;">BLL</div>
<div class="t" style="left:1254.8px;top:214.00px;font-size:13px;line-height:17px;color:#2a2e39;font-weight:bold;letter-spacing:1.131px;">85.90/86.00</div>
<div class="t" style="left:1254.8px;top:228.00px;font-size:13px;line-height:17px;color:#2a2e39;font-weight:bold;letter-spacing:0.385px;">(LT Level)</div>
<div class="t" style="left:1254.8px;top:366.00px;font-size:13px;line-height:17px;color:#2a2e39;font-weight:bold;letter-spacing:1.038px;">79.77</div>
<div class="t" style="left:1254.8px;top:412.00px;font-size:13px;line-height:17px;color:#2a2e39;font-weight:bold;letter-spacing:0.621px;">77.40 (LT Level)</div>
<div class="t" style="left:1254.8px;top:515.00px;font-size:13px;line-height:17px;color:#ff9800;font-weight:bold;letter-spacing:1.038px;">72.50</div>
<div class="t" style="left:51.4px;top:799.84px;font-size:12px;line-height:16px;color:#555965;letter-spacing:0px;transform:scaleX(0.8895);transform-origin:0 0;">Sep</div>
<div class="t" style="left:189.1px;top:799.84px;font-size:12px;line-height:16px;color:#555965;letter-spacing:0.164px;">Oct</div>
<div class="t" style="left:340.0px;top:799.84px;font-size:12px;line-height:16px;color:#555965;letter-spacing:0px;transform:scaleX(0.937);transform-origin:0 0;">Nov</div>
<div class="t" style="left:485.0px;top:799.84px;font-size:12px;line-height:16px;color:#555965;letter-spacing:0px;transform:scaleX(0.937);transform-origin:0 0;">Dec</div>
<div class="t" style="left:767.6px;top:799.84px;font-size:12px;line-height:16px;color:#555965;letter-spacing:0px;transform:scaleX(0.9474);transform-origin:0 0;">Feb</div>
<div class="t" style="left:904.8px;top:799.84px;font-size:12px;line-height:16px;color:#555965;letter-spacing:0px;transform:scaleX(0.9675);transform-origin:0 0;">Mar</div>
<div class="t" style="left:1043.2px;top:799.84px;font-size:12px;line-height:16px;color:#555965;letter-spacing:0.156px;">Apr</div>
<div class="t" style="left:1193.4px;top:799.84px;font-size:12px;line-height:16px;color:#555965;letter-spacing:0px;transform:scaleX(0.9351);transform-origin:0 0;">May</div>
<div class="t" style="left:1346.5px;top:799.84px;font-size:12px;line-height:16px;color:#555965;letter-spacing:-0.18px;">Jun</div>
<div class="t" style="left:619.0px;top:799.84px;font-size:12px;line-height:16px;color:#2a2e39;font-weight:bold;letter-spacing:0.332px;">2024</div>
<div class="t" style="left:34.0px;top:831.00px;font-size:13px;line-height:17px;color:#2a2e39;letter-spacing:-0.255px;">TradingView</div>
<div class="t" style="left:18.2px;top:696.84px;font-size:12px;line-height:16px;color:#50535e;letter-spacing:0px;transform:scaleX(0.7394);transform-origin:0 0;">RSI</div>
<div class="t" style="left:41.3px;top:696.84px;font-size:12px;line-height:16px;color:#7e57c2;letter-spacing:-0.258px;">43.26</div>
<div class="t" style="left:78.5px;top:696.84px;font-size:12px;line-height:16px;color:#fbd92c;font-weight:bold;letter-spacing:-0.258px;">52.19</div>
<div class="t" style="left:115.1px;top:697.69px;font-size:11px;line-height:15px;color:#50535e;letter-spacing:0px;transform:scaleX(0.9343);transform-origin:0 0;">Ø</div>
<div class="t" style="left:130.4px;top:697.69px;font-size:11px;line-height:15px;color:#50535e;letter-spacing:0px;transform:scaleX(0.9343);transform-origin:0 0;">Ø</div>
<div class="t" style="left:146.1px;top:697.69px;font-size:11px;line-height:15px;color:#50535e;letter-spacing:0px;transform:scaleX(0.9343);transform-origin:0 0;">Ø</div>
<div class="t" style="left:161.0px;top:697.69px;font-size:11px;line-height:15px;color:#50535e;letter-spacing:0px;transform:scaleX(0.9343);transform-origin:0 0;">Ø</div>
<div class="t" style="left:176.3px;top:697.69px;font-size:11px;line-height:15px;color:#50535e;letter-spacing:0px;transform:scaleX(0.9343);transform-origin:0 0;">Ø</div>
<div class="t" style="left:191.1px;top:697.69px;font-size:11px;line-height:15px;color:#50535e;letter-spacing:0px;transform:scaleX(0.9343);transform-origin:0 0;">Ø</div>
<div class="b" style="left:1425.0px;top:85.0px;width:42.7px;height:33.7px;background:#2962ff;border-radius:0 2px 2px 0"></div>
<div class="b" style="left:1372.8px;top:319.0px;width:51.2px;height:16.8px;background:#2a2eff;border-radius:2px 0 0 2px"></div>
<div class="b" style="left:1425.0px;top:319.0px;width:42.7px;height:16.8px;background:#2a2eff;border-radius:0 2px 2px 0"></div>
<div class="b" style="left:1367.8px;top:336.0px;width:56.2px;height:16.8px;background:#ef5350;border-radius:2px 0 0 2px"></div>
<div class="b" style="left:1425.0px;top:336.0px;width:59.5px;height:30.8px;background:#ef5350;border-radius:0 2px 2px 0"></div>
<div class="b" style="left:1372.8px;top:370.0px;width:51.2px;height:16.8px;background:#f23645;border-radius:2px 0 0 2px"></div>
<div class="b" style="left:1425.0px;top:370.0px;width:42.7px;height:16.8px;background:#f23645;border-radius:0 2px 2px 0"></div>
<div class="b" style="left:1425.0px;top:387.0px;width:42.7px;height:16.8px;background:#000;border-radius:0 2px 2px 0"></div>
<div class="b" style="left:1425.0px;top:427.3px;width:42.7px;height:16.4px;background:#131722;border-radius:0 2px 2px 0"></div>
<div class="b" style="left:1425.0px;top:531.0px;width:42.7px;height:16.7px;background:#ff9800;border-radius:0 2px 2px 0"></div>
<div class="b" style="left:1425.0px;top:582.8px;width:42.7px;height:17.0px;background:#9c27b0;border-radius:0 2px 2px 0"></div>
<div class="b" style="left:1425.0px;top:646.2px;width:42.7px;height:16.6px;background:#ff9800;border-radius:0 2px 2px 0"></div>
<div class="b" style="left:1333.0px;top:698.8px;width:134.7px;height:17.2px;background:#fff;border-radius:0"></div>
<div class="b" style="left:1344.0px;top:720.2px;width:80.0px;height:16.4px;background:#ffeb3b;border-radius:2px 0 0 2px"></div>
<div class="b" style="left:1425.0px;top:720.2px;width:42.7px;height:16.4px;background:#ffeb3b;border-radius:0 2px 2px 0"></div>
<div class="b" style="left:1334.8px;top:736.6px;width:132.9px;height:17.2px;background:#fff;border-radius:0"></div>
<div class="b" style="left:1397.8px;top:754.0px;width:26.2px;height:16.8px;background:#7e57c2;border-radius:2px 0 0 2px"></div>
<div class="b" style="left:1425.0px;top:754.0px;width:42.7px;height:16.8px;background:#7e57c2;border-radius:0 2px 2px 0"></div>
<div style="position:absolute;left:1426px;top:690px;width:60px;height:8.6px;overflow:hidden"><div class="t" style="left:6.8px;top:-0.16px;font-size:12px;line-height:16px;color:#555965;letter-spacing:-0.2px">80.00</div></div>
<div class="t" style="left:1432.8px;top:85.84px;font-size:12px;line-height:16px;color:#fff;font-weight:bold;letter-spacing:0px;transform:scaleX(0.9557);transform-origin:0 0;">92.81</div>
<div class="t" style="left:1432.8px;top:102.84px;font-size:12px;line-height:16px;color:#fff;font-weight:bold;letter-spacing:0px;transform:scaleX(0.9557);transform-origin:0 0;">92.76</div>
<div class="t" style="left:1377.8px;top:319.84px;font-size:12px;line-height:16px;color:#fff;font-weight:bold;letter-spacing:0px;transform:scaleX(0.8352);transform-origin:0 0;">SMA:MA</div>
<div class="t" style="left:1432.8px;top:319.84px;font-size:12px;line-height:16px;color:#fff;font-weight:bold;letter-spacing:0px;transform:scaleX(0.9557);transform-origin:0 0;">81.71</div>
<div class="t" style="left:1371.7px;top:336.84px;font-size:12px;line-height:16px;color:#fff;font-weight:bold;letter-spacing:0px;transform:scaleX(0.8977);transform-origin:0 0;">CLM2024</div>
<div class="t" style="left:1432.8px;top:336.84px;font-size:12px;line-height:16px;color:#fff;font-weight:bold;letter-spacing:0px;transform:scaleX(0.9557);transform-origin:0 0;">81.71</div>
<div class="t" style="left:1432.8px;top:350.84px;font-size:12px;line-height:16px;color:#fcdedd;letter-spacing:-0.074px;">04:24:30</div>
<div class="t" style="left:1377.8px;top:370.84px;font-size:12px;line-height:16px;color:#fff;font-weight:bold;letter-spacing:0px;transform:scaleX(0.8352);transform-origin:0 0;">SMA:MA</div>
<div class="t" style="left:1432.8px;top:370.84px;font-size:12px;line-height:16px;color:#fff;font-weight:bold;letter-spacing:0px;transform:scaleX(0.9557);transform-origin:0 0;">80.06</div>
<div class="t" style="left:1432.8px;top:387.84px;font-size:12px;line-height:16px;color:#fff;font-weight:bold;letter-spacing:0px;transform:scaleX(0.9557);transform-origin:0 0;">79.77</div>
<div class="t" style="left:1432.8px;top:427.84px;font-size:12px;line-height:16px;color:#fff;font-weight:bold;letter-spacing:0px;transform:scaleX(0.9557);transform-origin:0 0;">77.40</div>
<div class="t" style="left:1432.8px;top:531.84px;font-size:12px;line-height:16px;color:#131722;letter-spacing:0px;transform:scaleX(0.9557);transform-origin:0 0;">72.46</div>
<div class="t" style="left:1432.8px;top:583.84px;font-size:12px;line-height:16px;color:#fff;font-weight:bold;letter-spacing:0px;transform:scaleX(0.9557);transform-origin:0 0;">70.00</div>
<div class="t" style="left:1432.8px;top:646.84px;font-size:12px;line-height:16px;color:#131722;letter-spacing:0px;transform:scaleX(0.9557);transform-origin:0 0;">67.00</div>
<div class="t" style="left:1336.6px;top:699.69px;font-size:11px;line-height:15px;color:#131722;letter-spacing:0.223px;">Regular Bearish</div>
<div class="t" style="left:1432.8px;top:699.84px;font-size:12px;line-height:16px;color:#131722;letter-spacing:0px;transform:scaleX(0.9557);transform-origin:0 0;">74.85</div>
<div class="t" style="left:1348.5px;top:720.69px;font-size:11px;line-height:15px;color:#131722;letter-spacing:-0.094px;">RSI-based MA</div>
<div class="t" style="left:1432.8px;top:720.84px;font-size:12px;line-height:16px;color:#131722;letter-spacing:0px;transform:scaleX(0.9557);transform-origin:0 0;">52.19</div>
<div class="t" style="left:1340.3px;top:737.69px;font-size:11px;line-height:15px;color:#131722;letter-spacing:0.28px;">Regular Bullish</div>
<div class="t" style="left:1432.8px;top:737.84px;font-size:12px;line-height:16px;color:#131722;letter-spacing:0px;transform:scaleX(0.9557);transform-origin:0 0;">43.86</div>
<div class="t" style="left:1402.7px;top:754.69px;font-size:11px;line-height:15px;color:#fff;font-weight:bold;letter-spacing:0px;transform:scaleX(0.8722);transform-origin:0 0;">RSI</div>
<div class="t" style="left:1432.8px;top:754.84px;font-size:12px;line-height:16px;color:#fff;font-weight:bold;letter-spacing:0px;transform:scaleX(0.9557);transform-origin:0 0;">43.26</div>
<svg width="19.6" height="9.8" viewBox="0 4 36 18" preserveAspectRatio="none" style="left:10.1px;top:834.3px"><path d="M14 22H7V11H0V4h14v18zM28 22h-8l7.5-18h8L28 22z" fill="#131722"/><circle cx="20" cy="8" r="4" fill="#131722"/></svg>
<svg width="1499" height="857" viewBox="0 0 1499 857" style="left:0;top:0;pointer-events:none">
<defs><filter id="ws" x="-10%" y="-10%" width="130%" height="130%"><feGaussianBlur in="SourceAlpha" stdDeviation="0.9"/><feOffset dx="1.6" dy="1.6"/><feComponentTransfer><feFuncA type="linear" slope="0.7"/></feComponentTransfer><feComposite operator="out" in2="SourceAlpha" result="sh"/><feComponentTransfer in="SourceGraphic" result="g"><feFuncA type="linear" slope="0.62"/></feComponentTransfer><feMerge><feMergeNode in="sh"/><feMergeNode in="g"/></feMerge></filter></defs>
<g filter="url(#ws)">
<path transform="translate(1261.5,765.5) skewX(-12)" d="M4,0 h11 v14 h-11 z M0,20 h10 v9 h-10 z M0,54 L9,54 L17,35 L8,35 z M24,-1 L34,-1 L30,6 L20,6 z M18,4 h40 v8 h-40 z M20,15 h34 v7 h-34 z M20,15 h8 v39 h-8 z M46,15 h8 v39 h-8 z M20,47 h34 v7 h-34 z M14,30 h46 v7 h-46 z M35,22 h4 v4 h-4 z M35,37 h4 v5 h-4 z" fill="#fff" stroke="#fff" stroke-width="1.2" stroke-linejoin="miter"/>
<path transform="translate(1323.5,765.5) skewX(-12)" d="M10,0 h42 v8 h-42 z M10,0 h9 v29 h-9 z M10,21 h46 v8 h-46 z M46,0 h10 v54 h-10 z M30,46 h20 v8 h-20 z M0,35 h40 v8 h-40 z" fill="#fff" stroke="#fff" stroke-width="1.2" stroke-linejoin="miter"/>
<path transform="translate(1382.5,765.5) skewX(-12)" d="M0,2 h28 v7 h-28 z M0,2 h8 v38 h-8 z M20,2 h8 v38 h-8 z M0,33 h28 v7 h-28 z M12,9 h4 v24 h-4 z M6,40 L15,40 L8,54 L-2,54 z M15,40 L23,40 L30,54 L21,54 z M30,13 h30 v8 h-30 z M45,0 h9 v54 h-9 z M36,46 h12 v8 h-12 z M43,21 L50,21 L36,44 L28,44 z" fill="#fff" stroke="#fff" stroke-width="1.2" stroke-linejoin="miter"/>
<path transform="translate(1442.5,765.5) skewX(-12)" d="M14,0 L24,0 L12,16 L2,16 z M2,12 L24,12 L24,20 L2,20 z M16,20 L25,20 L12,36 L2,36 z M2,30 h23 v7 h-23 z M0,45 L24,41 L24,49 L0,54 z M29,0 h28 v8 h-28 z M48,8 L58,8 L36,29 L26,29 z M32,12 L41,12 L60,29 L50,29 z M31,32 h26 v7 h-26 z M40,32 h8 v16 h-8 z M27,46 h33 v8 h-33 z" fill="#fff" stroke="#fff" stroke-width="1.2" stroke-linejoin="miter"/>
</g></svg>
<div class="t" style="left:1263.5px;top:825.24px;font-size:31px;line-height:30px;font-weight:bold;font-style:italic;color:#8fb0fb;letter-spacing:8.6px;transform:scaleX(1.12);transform-origin:0 0;text-shadow:1px 1px 1px rgba(90,90,110,.75)">zzrt01.cn</div>
</body></html>
